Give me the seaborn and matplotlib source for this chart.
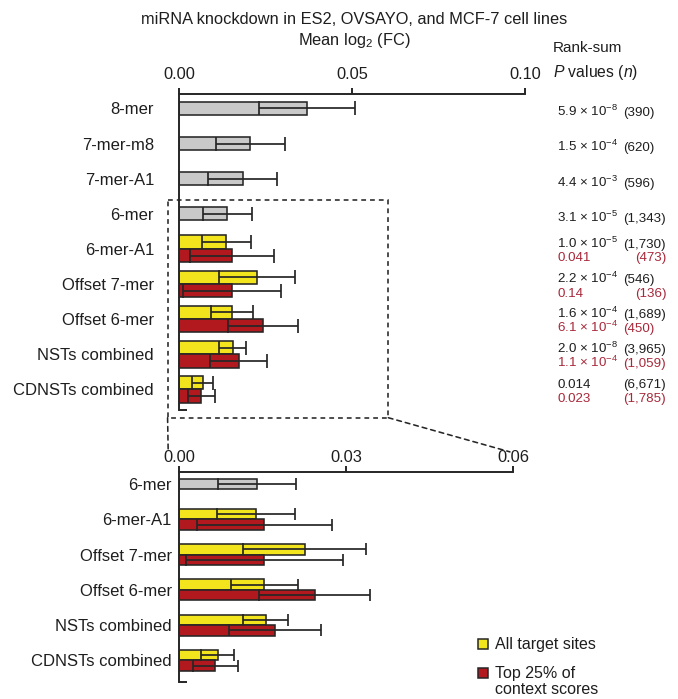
import numpy as np
import pandas as pd
import matplotlib
matplotlib.use("Agg")
import matplotlib.pyplot as plt
import seaborn as sns
from matplotlib.patches import Rectangle, ConnectionPatch

# ---------------- data ----------------
categories = ["8-mer", "7-mer-m8", "7-mer-A1", "6-mer", "6-mer-A1",
              "Offset 7-mer", "Offset 6-mer", "NSTs combined", "CDNSTs combined"]
zoom_categories = ["6-mer", "6-mer-A1", "Offset 7-mer", "Offset 6-mer",
                   "NSTs combined", "CDNSTs combined"]

single_sites = ["8-mer", "7-mer-m8", "7-mer-A1", "6-mer"]
single_mean = [0.0370, 0.0206, 0.0184, 0.0140]
single_err = [0.0140, 0.0100, 0.0100, 0.0070]

paired_sites = ["6-mer-A1", "Offset 7-mer", "Offset 6-mer", "NSTs combined", "CDNSTs combined"]
all_mean = [0.0137, 0.0225, 0.0153, 0.0155, 0.0069]
all_err = [0.0070, 0.0110, 0.0060, 0.0040, 0.0030]
top_mean = [0.0153, 0.0153, 0.0243, 0.0172, 0.0065]
top_err = [0.0121, 0.0141, 0.0100, 0.0082, 0.0040]

set_names = ["All target sites", "Top 25% of\ncontext scores"]

top_ticks = [0.00, 0.05, 0.10]
top_ticklabels = ["0.00", "0.05", "0.10"]
bottom_ticks = [0.00, 0.03, 0.06]
bottom_ticklabels = ["0.00", "0.03", "0.06"]

black_p = ["5.9 × 10$^{-8}$", "1.5 × 10$^{-4}$", "4.4 × 10$^{-3}$", "3.1 × 10$^{-5}$",
           "1.0 × 10$^{-5}$", "2.2 × 10$^{-4}$", "1.6 × 10$^{-4}$", "2.0 × 10$^{-8}$", "0.014"]
black_n = ["(390)", "(620)", "(596)", "(1,343)", "(1,730)", "(546)", "(1,689)", "(3,965)", "(6,671)"]
red_p = ["0.041", "0.14", "6.1 × 10$^{-4}$", "1.1 × 10$^{-4}$", "0.023"]
red_n = ["(473)", "(136)", "(450)", "(1,059)", "(1,785)"]

# ---------------- style ----------------
GRAY = "#c9c9c9"
YELLOW = "#f2e51d"
RED = "#b2191f"
EDGE = "#262626"
TXT = "#1e1e1e"
PRED = "#a8283a"

sns.set_theme(style="white")
plt.rcParams["font.family"] = ["Liberation Sans", "DejaVu Sans"]
plt.rcParams["mathtext.fontset"] = "custom"
plt.rcParams["mathtext.rm"] = "Liberation Sans"
plt.rcParams["mathtext.it"] = "Liberation Sans:italic"
plt.rcParams["mathtext.default"] = "regular"
plt.rcParams["text.color"] = TXT

FS = 12
TFS = 11.8

fig = plt.figure(figsize=(6.78, 6.99), dpi=100)
W, H = 678.0, 699.0
ax1 = fig.add_axes([179 / W, 1 - 410 / H, 346 / W, 316 / H])
ax2 = fig.add_axes([179.3 / W, 1 - 682 / H, 334 / W, 210 / H])

df_single = pd.DataFrame({"site": single_sites, "mean": single_mean, "err": single_err})
df_pair = pd.DataFrame({
    "site": paired_sites * 2,
    "mean": all_mean + top_mean,
    "err": all_err + top_err,
    "set": [set_names[0]] * len(paired_sites) + [set_names[1]] * len(paired_sites),
})


def draw_panel(ax, order, single_df, pair_df, width, capsize):
    sns.barplot(data=single_df, y="site", x="mean", order=order, orient="h",
                color=GRAY, edgecolor=EDGE, linewidth=1.15, width=width / 2,
                errorbar=None, ax=ax, saturation=1)
    sns.barplot(data=pair_df, y="site", x="mean", hue="set", order=order,
                hue_order=set_names, palette=[YELLOW, RED], orient="h",
                edgecolor=EDGE, linewidth=1.15, width=width, dodge=True,
                errorbar=None, ax=ax, legend=False, saturation=1)
    # error bars from library-placed bars
    err_lists = [single_df, pair_df[pair_df["set"] == set_names[0]],
                 pair_df[pair_df["set"] == set_names[1]]]
    for cont, sub in zip(ax.containers, err_lists):
        errs = dict(zip(sub["site"], sub["err"]))
        for bar in cont:
            yc = bar.get_y() + bar.get_height() / 2
            idx = int(round(yc))
            site = order[idx]
            if site not in errs:
                continue
            ax.errorbar(bar.get_width(), yc, xerr=errs[site], fmt="none",
                        ecolor=EDGE, elinewidth=1.25, capsize=capsize,
                        capthick=1.25, zorder=5)
    ax.set_xlabel("")
    ax.set_ylabel("")
    for s in ["right", "bottom"]:
        ax.spines[s].set_visible(False)
    for s in ["top", "left"]:
        ax.spines[s].set_color(EDGE)
        ax.spines[s].set_linewidth(1.4)
    ax.xaxis.tick_top()
    ax.plot([0, 0.022], [0, 0], transform=ax.transAxes, color=EDGE, lw=1.4,
            clip_on=False, solid_capstyle="butt")


draw_panel(ax1, categories, df_single, df_pair, 0.76, 5)
df_single_zoom = df_single[df_single["site"].isin(zoom_categories)]
draw_panel(ax2, zoom_categories, df_single_zoom, df_pair, 0.60, 4.5)

ax1.set_xlim(0, 0.10)
ax1.set_ylim(8.59, -0.41)
ax1.set_xticks(top_ticks)
ax1.set_xticklabels(top_ticklabels)
ax1.tick_params(axis="x", direction="out", length=4.3, width=1.4, color=EDGE,
                labelsize=TFS, pad=4.5, labelcolor=TXT)
ax1.tick_params(axis="y", length=0, pad=18, labelsize=FS, labelcolor=TXT)

ax2.set_xlim(0, 0.06)
ax2.set_ylim(5.61, -0.34)
ax2.set_xticks(bottom_ticks)
ax2.set_xticklabels(bottom_ticklabels)
ax2.tick_params(axis="x", direction="out", length=4.3, width=1.4, color=EDGE,
                labelsize=TFS, pad=1, labelcolor=TXT)
ax2.tick_params(axis="y", length=0, pad=5.5, labelsize=FS, labelcolor=TXT)

# zoom box and connectors
box = Rectangle((-0.0033, 2.61), 0.0638, 6.2, fill=False, ls=(0, (3, 2.5)),
                lw=1.15, ec=EDGE, clip_on=False, zorder=1)
ax1.add_patch(box)
for xa, xb, yb in [(-0.0033, -0.0020, -0.96), (0.0605, 0.0594, -0.91)]:
    con = ConnectionPatch(xyA=(xa, 8.81), coordsA=ax1.transData,
                          xyB=(xb, yb), coordsB=ax2.transData,
                          ls=(0, (3, 2.5)), lw=1.15, color=EDGE)
    fig.add_artist(con)

# titles
fig.text(354 / W, 1 - 19 / H, "miRNA knockdown in ES2, OVSAYO, and MCF-7 cell lines",
         ha="center", va="center", fontsize=TFS)
fig.text(354 / W, 1 - 41 / H, "Mean log$_2$ (FC)", ha="center", va="center", fontsize=TFS)
fig.text(553 / W, 1 - 48 / H, "Rank-sum", ha="left", va="center", fontsize=11)
fig.text(553 / W, 1 - 72 / H, "$\\it{P}$ values ($\\it{n}$)", ha="left", va="center", fontsize=11.3)

# p-value annotations
PFS = 9.6
trans = matplotlib.transforms.blended_transform_factory(ax1.transAxes, ax1.transData)
px, nx, nx_red_short = (557 - 179) / 346, (623 - 179) / 346, (635 - 179) / 346
for i, cat in enumerate(categories):
    if cat in paired_sites:
        yb = i - 0.03
    else:
        yb = i + 0.225
    ax1.text(px, yb, black_p[i], transform=trans, ha="left", va="baseline",
             fontsize=PFS, color=TXT, clip_on=False)
    ax1.text(nx, yb, black_n[i], transform=trans, ha="left", va="baseline",
             fontsize=PFS, color=TXT, clip_on=False)
for j, cat in enumerate(paired_sites):
    i = categories.index(cat)
    yb = i + 0.36
    ax1.text(px, yb, red_p[j], transform=trans, ha="left", va="baseline",
             fontsize=PFS, color=PRED, clip_on=False)
    xn = nx_red_short if j < 2 else nx
    ax1.text(xn, yb, red_n[j], transform=trans, ha="left", va="baseline",
             fontsize=PFS, color=PRED, clip_on=False)

# legend
for k, (col, lab, ytop) in enumerate([(YELLOW, set_names[0], 644), (RED, set_names[1], 673)]):
    fig.patches.append(Rectangle((478 / W, 1 - (ytop + 5) / H), 10 / W, 10 / H,
                                 transform=fig.transFigure, fc=col, ec=EDGE, lw=1.1))
    fig.text(495 / W, 1 - (ytop - 7) / H, lab, ha="left", va="top", fontsize=11.5,
             linespacing=1.05)

fig.savefig("out.png", dpi=100)
